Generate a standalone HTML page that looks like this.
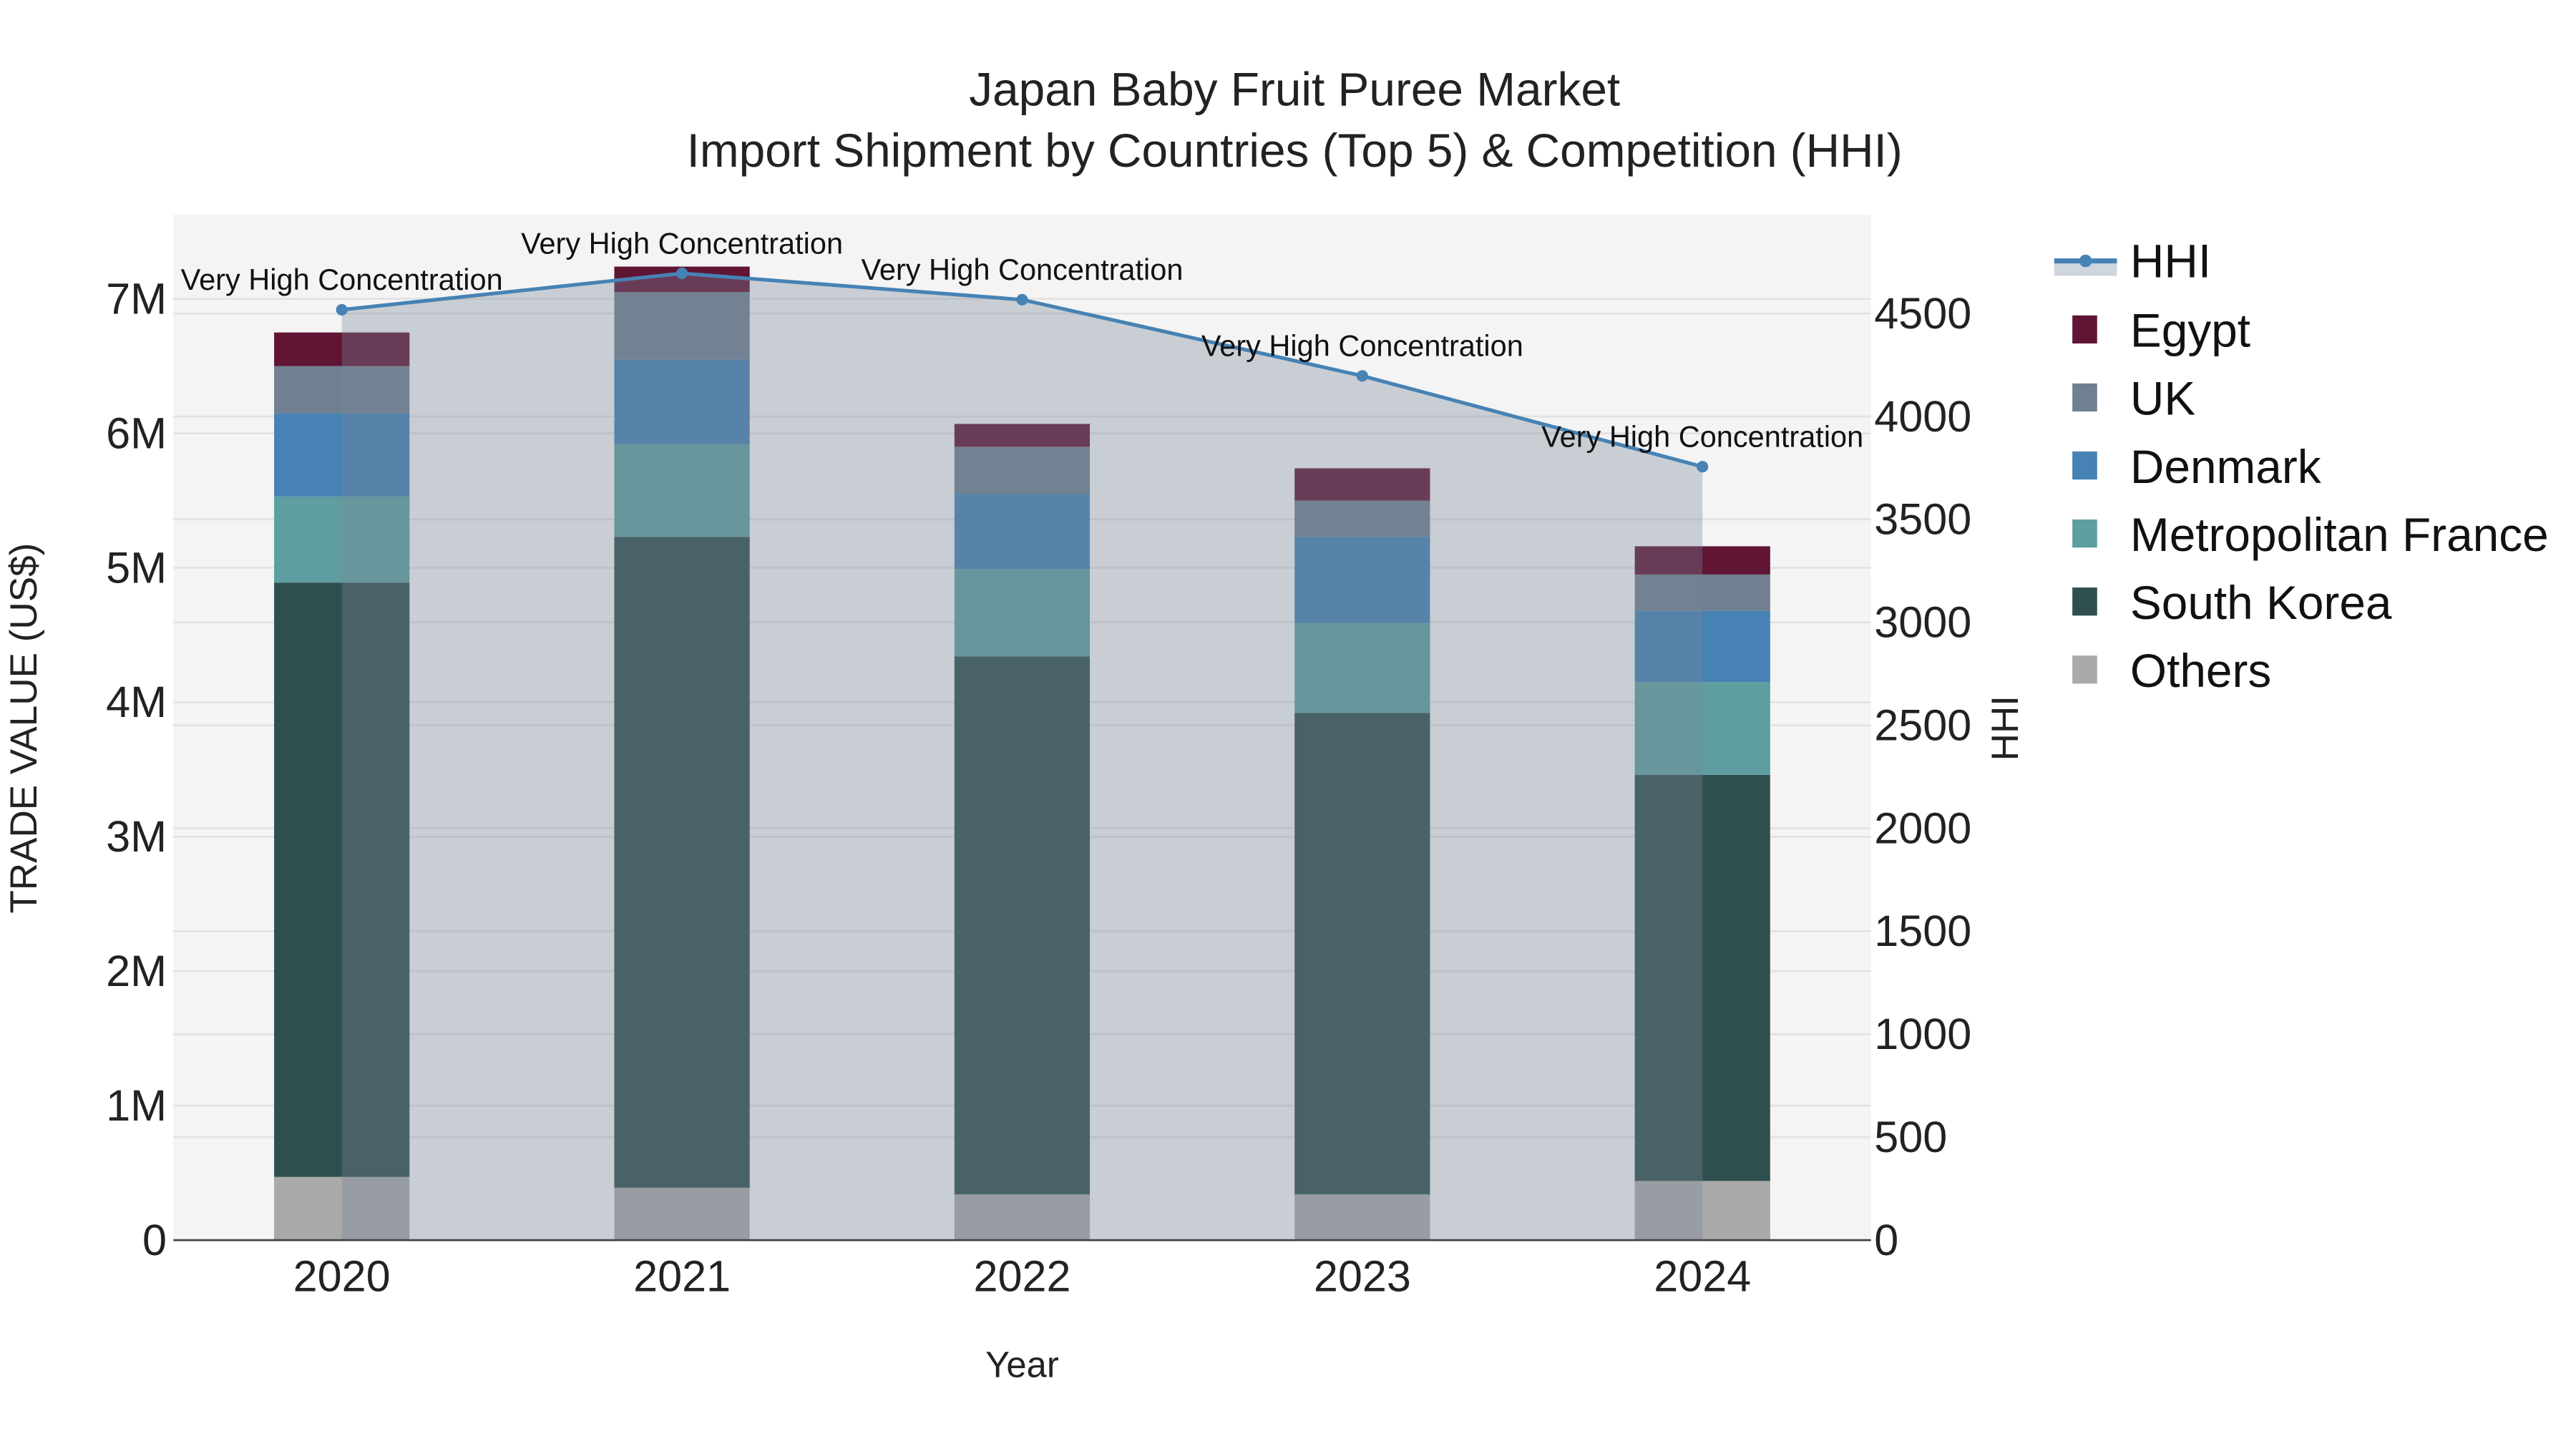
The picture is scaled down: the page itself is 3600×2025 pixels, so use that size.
<!DOCTYPE html>
<html><head><meta charset="utf-8"><style>
html,body{margin:0;padding:0;background:#fff;}
svg{display:block;font-family:"Liberation Sans",Arial,sans-serif;}
</style></head><body>
<svg id="chart" width="3600" height="2025" viewBox="0 0 1560 877.5" xmlns="http://www.w3.org/2000/svg">
<rect x="0" y="0" width="1560" height="877.5" fill="#fff"/>
<rect x="105" y="130" width="1028" height="621" fill="#f4f4f4"/>
<g id="grid"></g>
<g id="bars"></g>
<g id="hhi"></g>
<g id="axes"></g>
<text x="784" y="64" font-size="28.5" text-anchor="middle" fill="#222">Japan Baby Fruit Puree Market</text>
<text x="784" y="101" font-size="28.5" text-anchor="middle" fill="#222">Import Shipment by Countries (Top 5) &amp; Competition (HHI)</text>
<text x="619" y="834" font-size="22" text-anchor="middle" fill="#222">Year</text>
<text transform="translate(22,441) rotate(-90)" font-size="23" text-anchor="middle" fill="#222">TRADE VALUE (US$)</text>
<text transform="translate(1222,441) rotate(-90)" font-size="23" text-anchor="middle" fill="#222">HHI</text>
<g id="legend"></g>
</svg>
<script>
const years = ["2020","2021","2022","2023","2024"];
const seriesNames = ["Others","South Korea","Metropolitan France","Denmark","UK","Egypt"];
const others = [0.47,0.39,0.34,0.34,0.44];
const southKorea = [4.42,4.84,4.00,3.58,3.02];
const france = [0.64,0.69,0.65,0.67,0.69];
const denmark = [0.62,0.63,0.56,0.64,0.53];
const uk = [0.35,0.50,0.35,0.27,0.27];
const egypt = [0.25,0.19,0.17,0.24,0.21];
const hhi = [4518,4695,4567,4197,3756];
const hhiLabels = ["Very High Concentration","Very High Concentration","Very High Concentration","Very High Concentration","Very High Concentration"];
const yTicks = [0,1,2,3,4,5,6,7];
const yTickLabels = ["0","1M","2M","3M","4M","5M","6M","7M"];
const y2Ticks = [0,500,1000,1500,2000,2500,3000,3500,4000,4500];

const colors = ["#a9a9a9","#2f4f4f","#5f9ea0","#4682b4","#708090","#601535"];
const NS = "http://www.w3.org/2000/svg";
const X0=105, X1=1133, Y0=751;
const xPos = i => 207 + i*206;
const yL = v => Y0 - v*81.43;
const yR = v => Y0 - v*0.1247;
function mk(tag, attrs, parent){const e=document.createElementNS(NS,tag);for(const k in attrs)e.setAttribute(k,attrs[k]);parent.appendChild(e);return e;}
const grid=document.getElementById('grid'), bars=document.getElementById('bars'), hg=document.getElementById('hhi'), axes=document.getElementById('axes'), lg=document.getElementById('legend');

yTicks.forEach((t,i)=>{
  if(t>0){const l=mk('line',{x1:X0,x2:X1,y1:yL(t),y2:yL(t),stroke:'#e2e2e2','stroke-width':1.2},grid);
  
  }
  const tx=mk('text',{x:101,y:yL(t)+9,'font-size':26.5,'text-anchor':'end',fill:'#222'},axes);
  tx.textContent=yTickLabels[i];
  
  
});
y2Ticks.forEach(t=>{
  if(t>0){const l=mk('line',{x1:X0,x2:X1,y1:yR(t),y2:yR(t),stroke:'#e2e2e2','stroke-width':1.2},grid);
  
  }
  const tx=mk('text',{x:1135,y:yR(t)+9,'font-size':26.5,fill:'#222'},axes);
  tx.textContent=String(t);
  
  
});
const base=mk('line',{x1:X0,x2:X1,y1:Y0,y2:Y0,stroke:'#444','stroke-width':1.2},axes);


years.forEach((y,i)=>{
  const tx=mk('text',{x:xPos(i),y:782,'font-size':26.5,'text-anchor':'middle',fill:'#222'},axes);
  tx.textContent=y;
  
  
});

const series=[others,southKorea,france,denmark,uk,egypt];
years.forEach((y,i)=>{
  let cum=0;
  series.forEach((s,k)=>{
    const top=yL(cum+s[i]), bot=yL(cum);
    const r=mk('rect',{x:xPos(i)-41,y:top,width:82,height:bot-top,fill:colors[k]},bars);
    
    
    cum+=s[i];
  });
});

let area='M'+xPos(0)+','+Y0;
hhi.forEach((v,i)=>{area+=' L'+xPos(i)+','+yR(v);});
area+=' L'+xPos(hhi.length-1)+','+Y0+' Z';
const ar=mk('path',{d:area,fill:'rgba(119,136,153,0.35)'},hg);


const ln=mk('polyline',{points:hhi.map((v,i)=>xPos(i)+','+yR(v)).join(' '),fill:'none',stroke:'#4682b4','stroke-width':2.2},hg);


hhi.forEach((v,i)=>{
  const c=mk('circle',{cx:xPos(i),cy:yR(v),r:3.5,fill:'#4682b4'},hg);
  
  
  const t=mk('text',{x:xPos(i),y:yR(v)-12,'font-size':18,'text-anchor':'middle',fill:'#111'},hg);
  t.textContent=hhiLabels[i];
  
  
});

// legend
const lh=mk('rect',{x:1244,y:158,width:38,height:9,fill:'#cfd5dc'},lg);


const ll=mk('line',{x1:1244,x2:1282,y1:158,y2:158,stroke:'#4682b4','stroke-width':3},lg);


const lc=mk('circle',{cx:1263,cy:158,r:3.8,fill:'#4682b4'},lg);


const lt=mk('text',{x:1290,y:168,'font-size':28.5,fill:'#111'},lg);
lt.textContent='HHI';


const legOrder=[5,4,3,2,1,0];
legOrder.forEach((k,j)=>{
  const cy=200+j*41.2;
  const r=mk('rect',{x:1255,y:cy-9,width:15,height:17,fill:colors[k]},lg);
  
  
  const t=mk('text',{x:1290,y:cy+10,'font-size':28.5,fill:'#111'},lg);
  t.textContent=seriesNames[k];
  
  
});
</script>
</body></html>
